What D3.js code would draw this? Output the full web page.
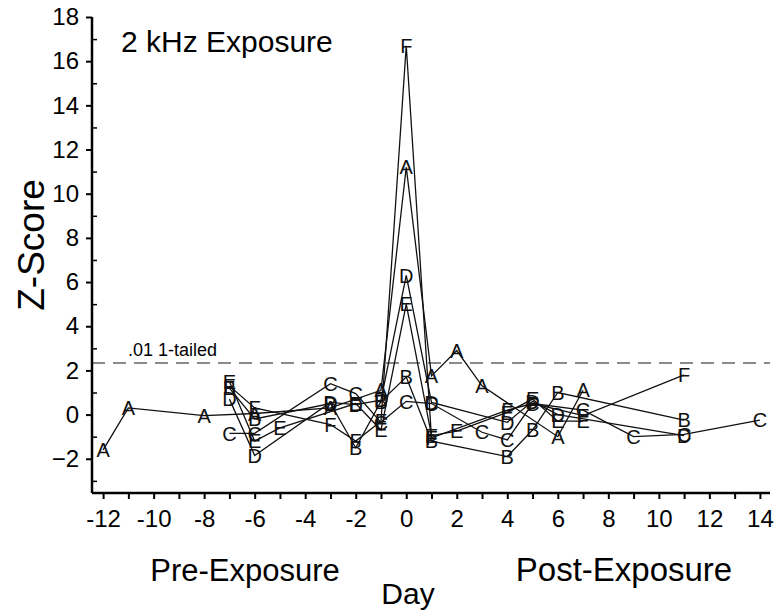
<!DOCTYPE html>
<html>
<head>
<meta charset="utf-8">
<script src="https://cdn.jsdelivr.net/npm/d3@7"></script>
<style>
  body { margin: 0; background: #fff; }
  svg { font-family: "Liberation Sans", Arial, sans-serif; }
</style>
</head>
<body>
<svg id="chart" width="774" height="614"></svg>
<script>
// Z-scores per animal: [day, z]
const seriesA = [[-12,-1.6],[-11,0.3],[-8,-0.05],[-6,0.05],[-3,0.3],[-1,1.1],[0,11.2],[1,1.75],[2,2.9],[3,1.3],[6,-1.0],[7,1.1]];
const seriesB = [[-7,1.2],[-6,-0.2],[-3,0.5],[-2,-1.5],[-1,0.6],[0,1.7],[1,-1.2],[4,-1.9],[5,-0.7],[6,1.0],[11,-0.25]];
const seriesC = [[-7,-0.85],[-6,-0.85],[-3,1.4],[-2,0.95],[-1,-0.35],[0,0.6],[1,0.5],[3,-0.8],[4,-1.15],[5,0.5],[7,0.2],[9,-1.0],[11,-0.9],[14,-0.25]];
const seriesD = [[-7,0.7],[-6,-1.85],[-3,0.55],[-2,0.45],[-1,0.65],[0,6.3],[1,0.55],[4,-0.35],[5,0.6],[6,0.0],[11,-0.95]];
const seriesE = [[-7,1.5],[-6,-1.2],[-5,-0.6],[-2,0.5],[-1,-0.7],[0,5.0],[1,-0.95],[2,-0.75],[4,0.1],[5,0.7],[6,-0.3],[7,-0.3]];
const seriesF = [[-7,1.3],[-6,0.3],[-3,-0.45],[-2,-1.2],[-1,-0.3],[0,16.7],[1,-1.05],[4,0.2],[5,0.5],[7,-0.05],[11,1.8]];
const seriesLabels = ["A", "B", "C", "D", "E", "F"];
const allSeries = [seriesA, seriesB, seriesC, seriesD, seriesE, seriesF];

const threshold = 2.33;          // .01 1-tailed
const xTicks = d3.range(-12, 15);
const yMajor = d3.range(-2, 19, 2);
const yMinor = d3.range(-3, 18, 2);

const svg = d3.select("#chart");

const x = d3.scaleLinear().domain([-12.44, 14.4]).range([92, 770]);
const y = d3.scaleLinear().domain([-3.55, 18]).range([493, 17]);

// threshold line
svg.append("line")
  .attr("x1", x.range()[0]).attr("x2", x.range()[1])
  .attr("y1", y(threshold)).attr("y2", y(threshold))
  .attr("stroke", "#8a8a8a").attr("stroke-width", 2)
  .attr("stroke-dasharray", "13,8");

svg.append("text")
  .attr("x", 128).attr("y", y(threshold) - 7)
  .attr("font-size", 18)
  .text(".01 1-tailed");

// series lines + letter markers
const line = d3.line().x(d => x(d[0])).y(d => y(d[1]));
allSeries.forEach((s, i) => {
  svg.append("path")
    .attr("d", line(s))
    .attr("fill", "none")
    .attr("stroke", "#111")
    .attr("stroke-width", 1.3);
  svg.append("g")
    .selectAll("text")
    .data(s)
    .join("text")
      .attr("x", d => x(d[0]))
      .attr("y", d => y(d[1]))
      .attr("text-anchor", "middle")
      .attr("dy", "0.36em")
      .attr("font-size", 20)
      .attr("fill", "#111")
      .text(seriesLabels[i]);
});

// axes
const xAxis = svg.append("g")
  .attr("transform", `translate(0,${y.range()[0]})`)
  .call(d3.axisBottom(x).tickValues(xTicks).tickSize(6).tickPadding(11)
    .tickFormat(d => d % 2 === 0 ? d : ""));
xAxis.select(".domain").attr("d", `M${x.range()[0]},0H${x.range()[1]}`).attr("stroke-width", 2.5);
xAxis.selectAll(".tick line").attr("stroke-width", 2);
xAxis.selectAll(".tick text").attr("font-size", 24).attr("font-family", "Liberation Sans, Arial, sans-serif");

const yAxis = svg.append("g")
  .attr("transform", `translate(${x.range()[0]},0)`)
  .call(d3.axisLeft(y).tickValues(yMajor).tickSize(6).tickPadding(7));
yAxis.select(".domain").attr("d", `M0,${y.range()[0]}V${y.range()[1]}`).attr("stroke-width", 2.5);
yAxis.selectAll(".tick line").attr("stroke-width", 2);
yAxis.selectAll(".tick text").attr("font-size", 24).attr("font-family", "Liberation Sans, Arial, sans-serif");

const yMinorAxis = svg.append("g")
  .attr("transform", `translate(${x.range()[0]},0)`)
  .call(d3.axisRight(y).tickValues(yMinor).tickSize(5).tickFormat(""));
yMinorAxis.select(".domain").remove();
yMinorAxis.selectAll(".tick line").attr("stroke-width", 1.5);

// texts
svg.append("text").attr("x", 121).attr("y", 52).attr("font-size", 30).text("2 kHz Exposure");
svg.append("text")
  .attr("transform", `translate(44,245) rotate(-90)`)
  .attr("text-anchor", "middle").attr("font-size", 37).text("Z-Score");
svg.append("text").attr("x", 245).attr("y", 581).attr("text-anchor", "middle").attr("font-size", 31).text("Pre-Exposure");
svg.append("text").attr("x", 624).attr("y", 581).attr("text-anchor", "middle").attr("font-size", 33).text("Post-Exposure");
svg.append("text").attr("x", 408).attr("y", 604).attr("text-anchor", "middle").attr("font-size", 30).text("Day");
</script>
</body>
</html>
